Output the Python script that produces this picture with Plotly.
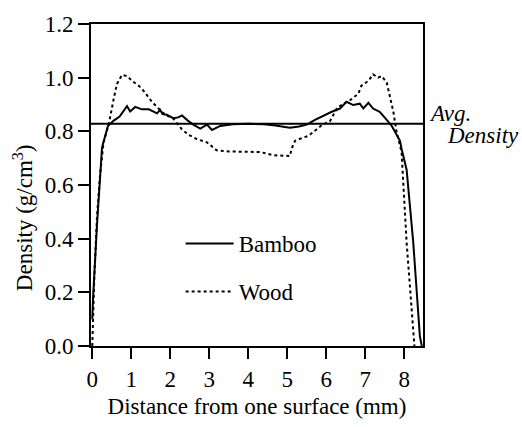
import plotly.graph_objects as go

# Bamboo density profile (g/cm3) vs distance from one surface (mm)
bamboo_x = [0, 0.02, 0.12, 0.25, 0.4, 0.55, 0.7, 0.89, 0.97, 1.1, 1.27, 1.45, 1.66, 1.74, 1.8,
            1.91, 2.0, 2.08, 2.2, 2.3, 2.45, 2.59, 2.77, 2.94, 3.07, 3.28, 3.6, 4.0, 4.4, 4.7,
            4.94, 5.07, 5.3, 5.5, 5.71, 5.97, 6.14, 6.35, 6.52, 6.69, 6.86, 6.95, 7.08, 7.2,
            7.37, 7.55, 7.68, 7.89, 7.93, 8.06, 8.23, 8.4, 8.45]
bamboo_y = [0.1, 0.18, 0.45, 0.74, 0.82, 0.84, 0.855, 0.894, 0.874, 0.891, 0.882, 0.882, 0.867,
            0.88, 0.864, 0.862, 0.855, 0.849, 0.852, 0.859, 0.84, 0.825, 0.81, 0.825, 0.805,
            0.82, 0.826, 0.828, 0.826, 0.822, 0.816, 0.813, 0.818, 0.825, 0.843, 0.862, 0.873,
            0.885, 0.91, 0.898, 0.903, 0.885, 0.906, 0.885, 0.873, 0.843, 0.82, 0.765, 0.735,
            0.657, 0.386, 0.036, 0.0]

# Wood density profile
wood_x = [0, 0.05, 0.12, 0.2, 0.29, 0.42, 0.55, 0.63, 0.76, 0.89, 1.02, 1.19, 1.31, 1.4, 1.53,
          1.7, 1.87, 2.08, 2.3, 2.47, 2.68, 2.94, 3.19, 3.5, 4.05, 4.3, 4.64, 5.07, 5.11, 5.2,
          5.41, 5.54, 5.75, 5.9, 6.09, 6.27, 6.43, 6.61, 6.82, 6.9, 7.08, 7.2, 7.33, 7.42,
          7.55, 7.63, 7.72, 7.8, 7.93, 8.06, 8.23, 8.26]
wood_y = [0.0, 0.25, 0.48, 0.64, 0.76, 0.825, 0.922, 0.976, 1.01, 1.006, 0.988, 0.97, 0.952,
          0.934, 0.91, 0.885, 0.862, 0.847, 0.807, 0.787, 0.771, 0.759, 0.729, 0.725, 0.723,
          0.723, 0.711, 0.708, 0.735, 0.765, 0.777, 0.783, 0.807, 0.825, 0.837, 0.885, 0.903,
          0.916, 0.94, 0.97, 0.988, 1.012, 1.0, 1.006, 0.982, 0.934, 0.873, 0.80, 0.723,
          0.386, 0.03, 0.0]

avg_density = 0.828
x_range = [-0.033, 8.48]
y_range = [0, 1.2]
x_ticks = [0, 1, 2, 3, 4, 5, 6, 7, 8]
y_ticks = [0.0, 0.2, 0.4, 0.6, 0.8, 1.0, 1.2]
y_tick_labels = ["0.0", "0.2", "0.4", "0.6", "0.8", "1.0", "1.2"]

FONT = "Liberation Serif, Times New Roman, serif"
FS = 23

fig = go.Figure()
fig.add_trace(go.Scatter(x=x_range, y=[avg_density, avg_density], mode="lines",
                         line=dict(color="black", width=2), showlegend=False,
                         hoverinfo="skip"))
fig.add_trace(go.Scatter(x=bamboo_x, y=bamboo_y, mode="lines", name="Bamboo",
                         legendgroup="b", line=dict(color="black", width=2)))
fig.add_trace(go.Scatter(x=wood_x, y=wood_y, mode="lines", name="Wood",
                         legendgroup="w", line=dict(color="black", width=2, dash="dot")))

fig.update_layout(
    width=522, height=427,
    margin=dict(l=91, r=99, t=15, b=80),
    paper_bgcolor="white", plot_bgcolor="white",
    font=dict(family=FONT, size=FS, color="black"),
    showlegend=True,
    legend=dict(x=0.27, y=0.385, xanchor="left", yanchor="top",
                bgcolor="rgba(0,0,0,0)", font=dict(family=FONT, size=FS),
                tracegroupgap=15, itemwidth=48),
    xaxis=dict(range=x_range, tickvals=x_ticks, ticks="outside", ticklen=11, tickwidth=2,
               tickcolor="black", showline=True, linewidth=2, linecolor="black",
               mirror=True, showgrid=False, zeroline=False,
               tickfont=dict(family=FONT, size=FS),
               title=dict(text="Distance from one surface (mm)", standoff=7,
                          font=dict(family=FONT, size=FS))),
    yaxis=dict(range=y_range, tickvals=y_ticks, ticktext=y_tick_labels, ticks="outside",
               ticklen=11, tickwidth=2, tickcolor="black", showline=True, linewidth=2,
               linecolor="black", mirror=True, showgrid=False, zeroline=False,
               tickfont=dict(family=FONT, size=FS)),
    annotations=[
        dict(text="Density (g/cm<sup>3</sup>)", textangle=-90, xref="paper", yref="paper",
             x=-0.205, y=0.40, xanchor="center", yanchor="middle", showarrow=False,
             font=dict(family=FONT, size=FS)),
        dict(text="<i>Avg.</i>", xref="paper", yref="paper", x=1.012, y=0.723,
             xanchor="left", yanchor="middle", showarrow=False,
             font=dict(family=FONT, size=FS)),
        dict(text="<i>Density</i>", xref="paper", yref="paper", x=1.066, y=0.654,
             xanchor="left", yanchor="middle", showarrow=False,
             font=dict(family=FONT, size=FS)),
    ],
)

fig.write_html("out.html")
